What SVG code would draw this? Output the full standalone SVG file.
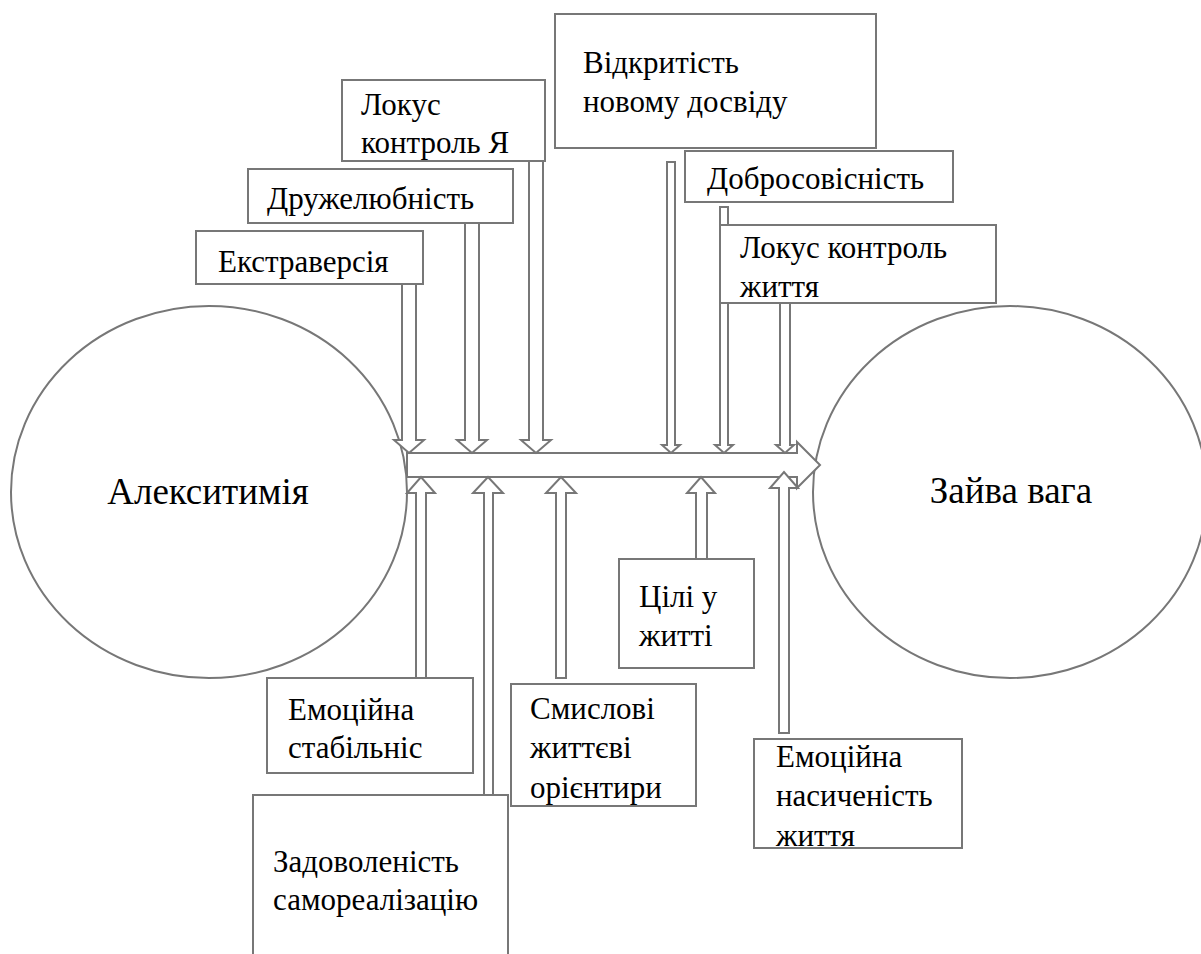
<svg xmlns="http://www.w3.org/2000/svg" width="1201" height="954" viewBox="0 0 1201 954" style="font-family:'Liberation Serif','Times New Roman',Times,serif">
<style>
.box{fill:#fff;stroke:#777;stroke-width:2}
.arr{fill:#fff;stroke:#777;stroke-width:2;stroke-linejoin:miter}
.ell{fill:#fff;stroke:#777;stroke-width:2}
text{font-family:'Liberation Serif','Times New Roman',Times,serif}
.lbl{font-size:31px;fill:#000}
.big{font-size:37px;fill:#000;text-anchor:middle}
</style>
<rect width="1201" height="954" fill="#fff"/>
<g id="alexithymia">
<ellipse class="ell" cx="209" cy="492" rx="198" ry="186"/>
<text class="big" x="208" y="504">Алекситимія</text>
</g>
<g id="overweight">
<ellipse class="ell" cx="1010" cy="492" rx="197" ry="186"/>
<text class="big" x="1011" y="503">Зайва вага</text>
</g>
<g id="connectors">
<polygon class="arr" points="407,453 797,453 797,442 820,465 797,488 797,477 407,477"/>
<polygon class="arr" points="402,284 416,284 416,440 424,440 409,453 394,440 402,440"/>
<polygon class="arr" points="465,223 479,223 479,440 487,440 472,453 457,440 465,440"/>
<polygon class="arr" points="529,161 543,161 543,440 551,440 536,453 521,440 529,440"/>
<polygon class="arr" points="667,162 675,162 675,445 680,445 671,453 662,445 667,445"/>
<polygon class="arr" points="720,207 728,207 728,445 733,445 724,453 715,445 720,445"/>
<polygon class="arr" points="780,303 790,303 790,445 794,445 785,453 776,445 780,445"/>
<polygon class="arr" points="416,678 426,678 426,493 435,493 421,477 407,493 416,493"/>
<polygon class="arr" points="484,795 493,795 493,493 503,493 488,477 473,493 484,493"/>
<polygon class="arr" points="556,678 566,678 566,493 576,493 561,477 546,493 556,493"/>
<polygon class="arr" points="696,559 707,559 707,493 715,493 701,477 687,493 696,493"/>
<polygon class="arr" points="779,733 789,733 789,488 798,488 784,472 770,488 779,488"/>
</g>
<g id="extraversion">
<rect class="box" x="196" y="231" width="227" height="53"/>
<text class="lbl" x="218" y="272">Екстраверсія</text>
</g>
<g id="agreeableness">
<rect class="box" x="248" y="169" width="265" height="54"/>
<text class="lbl" x="267" y="209">Дружелюбність</text>
</g>
<g id="locus-self">
<rect class="box" x="342" y="80" width="203" height="81"/>
<text class="lbl" x="361" y="115">Локус</text>
<text class="lbl" x="361" y="153">контроль Я</text>
</g>
<g id="openness">
<rect class="box" x="555" y="14" width="321" height="134"/>
<text class="lbl" x="583" y="73">Відкритість</text>
<text class="lbl" x="583" y="112">новому досвіду</text>
</g>
<g id="conscientiousness">
<rect class="box" x="685" y="151" width="268" height="51"/>
<text class="lbl" x="707" y="189">Добросовісність</text>
</g>
<g id="locus-life">
<rect class="box" x="720" y="225" width="276" height="78"/>
<text class="lbl" x="740" y="258">Локус контроль</text>
<text class="lbl" x="740" y="297">життя</text>
</g>
<g id="emotional-stability">
<rect class="box" x="267" y="678" width="206" height="95"/>
<text class="lbl" x="288" y="720">Емоційна</text>
<text class="lbl" x="288" y="758">стабільніс</text>
</g>
<g id="self-realization">
<rect class="box" x="253" y="795" width="255" height="200"/>
<text class="lbl" x="273" y="872">Задоволеність</text>
<text class="lbl" x="273" y="910">самореалізацію</text>
</g>
<g id="meaning">
<rect class="box" x="511" y="684" width="185" height="122"/>
<text class="lbl" x="530" y="719">Смислові</text>
<text class="lbl" x="530" y="758">життєві</text>
<text class="lbl" x="530" y="798">орієнтири</text>
</g>
<g id="goals">
<rect class="box" x="619" y="559" width="135" height="109"/>
<text class="lbl" x="639" y="607">Цілі у</text>
<text class="lbl" x="639" y="646">житті</text>
</g>
<g id="emotional-richness">
<rect class="box" x="754" y="739" width="208" height="109"/>
<text class="lbl" x="776" y="767">Емоційна</text>
<text class="lbl" x="776" y="806">насиченість</text>
<text class="lbl" x="776" y="846">життя</text>
</g>
</svg>
